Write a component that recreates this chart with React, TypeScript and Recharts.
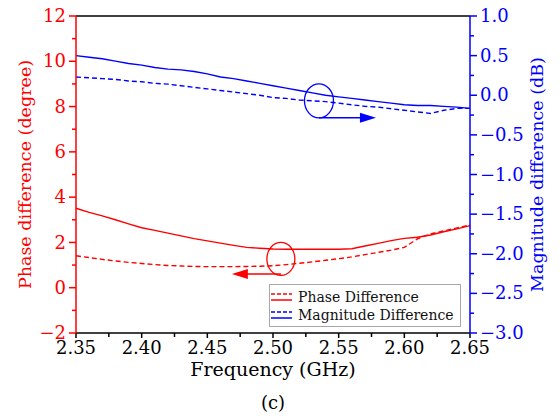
import React from 'react';
import { ComposedChart, Line, XAxis, YAxis, ReferenceLine, ReferenceDot, Legend } from 'recharts';

const RED = '#ff0000';
const BLUE = '#0000ff';
const FONT = "'DejaVu Serif', serif";

// frequency points (GHz)
const freq = [
  2.35, 2.36, 2.37, 2.38, 2.39, 2.4, 2.41, 2.42, 2.43, 2.44, 2.45, 2.46, 2.47, 2.48, 2.49, 2.5,
  2.51, 2.52, 2.53, 2.54, 2.55, 2.56, 2.57, 2.58, 2.59, 2.6, 2.61, 2.62, 2.63, 2.64, 2.65,
];

// phase difference (degree), left axis
const phaseSolid = [
  3.51, 3.33, 3.17, 3.0, 2.82, 2.65, 2.53, 2.41, 2.29, 2.17, 2.07, 1.97, 1.87, 1.78, 1.74, 1.71,
  1.7, 1.7, 1.7, 1.7, 1.7, 1.72, 1.84, 1.96, 2.08, 2.18, 2.23, 2.33, 2.47, 2.6, 2.74,
];
const phaseDashed = [
  1.41, 1.33, 1.25, 1.18, 1.12, 1.07, 1.02, 0.98, 0.96, 0.94, 0.93, 0.93, 0.93, 0.94, 0.95, 0.97,
  1.02, 1.08, 1.14, 1.21, 1.28, 1.36, 1.46, 1.56, 1.66, 1.78, 2.16, 2.38, 2.51, 2.64, 2.77,
];

// magnitude difference (dB), right axis
const magSolid = [
  0.5, 0.48, 0.46, 0.43, 0.4, 0.38, 0.35, 0.33, 0.32, 0.3, 0.27, 0.23, 0.21, 0.18, 0.15, 0.12,
  0.09, 0.06, 0.03, 0.0, -0.02, -0.04, -0.06, -0.08, -0.1, -0.12, -0.13, -0.13, -0.14, -0.15, -0.165,
];
const magDashed = [
  0.23, 0.22, 0.21, 0.2, 0.18, 0.17, 0.15, 0.14, 0.12, 0.1, 0.08, 0.06, 0.04, 0.02, 0.0, -0.03,
  -0.04, -0.06, -0.07, -0.08, -0.1, -0.12, -0.14, -0.15, -0.17, -0.19, -0.21, -0.23, -0.19, -0.165, -0.165,
];

const xTicks = [2.35, 2.375, 2.4, 2.425, 2.45, 2.475, 2.5, 2.525, 2.55, 2.575, 2.6, 2.625, 2.65];
const leftTicks = [-2, -1, 0, 1, 2, 3, 4, 5, 6, 7, 8, 9, 10, 11, 12];
const rightTicks = [-3, -2.75, -2.5, -2.25, -2, -1.75, -1.5, -1.25, -1, -0.75, -0.5, -0.25, 0, 0.25, 0.5, 0.75, 1];

const legendItems = [
  { name: 'Phase Difference', color: RED },
  { name: 'Magnitude Difference', color: BLUE },
];

const data = freq.map((f, i) => ({
  f,
  phaseSolid: phaseSolid[i],
  phaseDashed: phaseDashed[i],
  magSolid: magSolid[i],
  magDashed: magDashed[i],
}));

const minus = (s: string) => s.replace('-', '\u2212');
const isStep = (v: number, k: number) => Math.abs(v * k - Math.round(v * k)) < 1e-6;
const txt = (size: number) => ({ fontFamily: FONT, fontSize: size });

function LeftTick(props: any) {
  const { x, y, payload } = props;
  const v = payload.value;
  const major = isStep(v, 0.5);
  return (
    <g>
      <line x1={x} y1={y} x2={x - (major ? 7 : 4)} y2={y} stroke={RED} strokeWidth={1.5} />
      {major && (
        <text x={x - 10} y={y} dy="0.34em" textAnchor="end" fill={RED} style={txt(18)}>
          {minus(String(v))}
        </text>
      )}
    </g>
  );
}

function RightTick(props: any) {
  const { x, y, payload } = props;
  const v = payload.value;
  const major = isStep(v, 2);
  return (
    <g>
      <line x1={x} y1={y} x2={x + (major ? 7 : 4)} y2={y} stroke={BLUE} strokeWidth={1.5} />
      {major && (
        <text x={x + 10} y={y} dy="0.34em" textAnchor="start" fill={BLUE} style={txt(18)}>
          {minus(v.toFixed(1))}
        </text>
      )}
    </g>
  );
}

function BottomTick(props: any) {
  const { x, y, payload } = props;
  const v = payload.value;
  const major = isStep(v, 20);
  return (
    <g>
      <line x1={x} y1={y} x2={x} y2={y + (major ? 5 : 4)} stroke="#000" strokeWidth={1.5} />
      {major && (
        <text x={x} y={y + 21} textAnchor="middle" fill="#000" style={txt(18)}>
          {v.toFixed(2)}
        </text>
      )}
    </g>
  );
}

const leftTitle = (p: any) => {
  const vb = p.viewBox;
  const cx = vb.x + 31;
  const cy = vb.y + vb.height / 2;
  return (
    <text x={cx} y={cy} transform={`rotate(-90, ${cx}, ${cy})`} textAnchor="middle" fill={RED} style={txt(17.5)}>
      Phase difference (degree)
    </text>
  );
};

const rightTitle = (p: any) => {
  const vb = p.viewBox;
  const cx = vb.x + 73;
  const cy = vb.y + vb.height / 2;
  return (
    <text x={cx} y={cy} transform={`rotate(-90, ${cx}, ${cy})`} textAnchor="middle" fill={BLUE} style={txt(17.5)}>
      Magnitude difference (dB)
    </text>
  );
};

const bottomTitle = (p: any) => {
  const vb = p.viewBox;
  const cx = vb.x + vb.width / 2;
  return (
    <g>
      <text x={cx} y={vb.y + 43} textAnchor="middle" fill="#000" style={txt(19)}>
        Frequency (GHz)
      </text>
      <text x={cx} y={vb.y + 76} textAnchor="middle" fill="#000" style={txt(18)}>
        (c)
      </text>
    </g>
  );
};

// circle + arrow pointing to the axis the curves belong to
const RedMark = (p: any) => {
  const { cx, cy } = p;
  const ay = cy + 15;
  return (
    <g>
      <ellipse cx={cx} cy={cy} rx={14} ry={16.5} fill="none" stroke={RED} strokeWidth={1.3} />
      <line x1={cx} y1={ay} x2={cx - 34} y2={ay} stroke={RED} strokeWidth={1.5} />
      <polygon points={`${cx - 49},${ay} ${cx - 33},${ay - 5} ${cx - 33},${ay + 5}`} fill={RED} />
    </g>
  );
};

const BlueMark = (p: any) => {
  const { cx, cy } = p;
  const ay = cy + 17;
  return (
    <g>
      <ellipse cx={cx} cy={cy} rx={14.5} ry={17} fill="none" stroke={BLUE} strokeWidth={1.3} />
      <line x1={cx} y1={ay} x2={cx + 42} y2={ay} stroke={BLUE} strokeWidth={1.5} />
      <polygon points={`${cx + 57},${ay} ${cx + 41},${ay - 5} ${cx + 41},${ay + 5}`} fill={BLUE} />
    </g>
  );
};

function LegendBox() {
  return (
    <svg width={192} height={43} style={{ display: 'block' }}>
      <rect x={0.5} y={0.5} width={191} height={42} fill="#fff" stroke="#a8a8a8" />
      {legendItems.map((it, i) => {
        const y0 = 10 + i * 18;
        return (
          <g key={it.name}>
            <line x1={2} x2={23} y1={y0} y2={y0} stroke={it.color} strokeWidth={1.5} strokeDasharray="4 2" />
            <line x1={2} x2={23} y1={y0 + 6} y2={y0 + 6} stroke={it.color} strokeWidth={1.5} />
            <text x={29} y={y0 + 8} fill="#111" style={txt(14)}>
              {it.name}
            </text>
          </g>
        );
      })}
    </svg>
  );
}

export default function App() {
  return (
    <div style={{ width: 560, height: 416, background: '#fff', fontFamily: FONT }}>
      <style>{'body{margin:0}'}</style>
      <ComposedChart width={560} height={416} data={data} margin={{ top: 16, right: 0, bottom: 0, left: 0 }}>
        <XAxis
          dataKey="f"
          type="number"
          domain={[2.35, 2.65]}
          ticks={xTicks}
          interval={0}
          tickSize={0}
          tickMargin={0}
          tickLine={false}
          tick={<BottomTick />}
          axisLine={{ stroke: '#000', strokeWidth: 1.5 }}
          height={83}
          label={bottomTitle}
        />
        <YAxis
          yAxisId="left"
          domain={[-2, 12]}
          ticks={leftTicks}
          interval={0}
          tickSize={0}
          tickMargin={0}
          tickLine={false}
          tick={<LeftTick />}
          axisLine={{ stroke: RED, strokeWidth: 1.5 }}
          width={76}
          label={leftTitle}
        />
        <YAxis
          yAxisId="right"
          orientation="right"
          domain={[-3, 1]}
          ticks={rightTicks}
          interval={0}
          tickSize={0}
          tickMargin={0}
          tickLine={false}
          tick={<RightTick />}
          axisLine={{ stroke: BLUE, strokeWidth: 1.5 }}
          width={90}
          label={rightTitle}
        />
        <ReferenceLine yAxisId="left" y={12} stroke="#000" strokeWidth={1.5} />
        <Line yAxisId="left" dataKey="phaseSolid" name="Phase Difference" stroke={RED} strokeWidth={1.4} dot={false} isAnimationActive={false} />
        <Line yAxisId="left" dataKey="phaseDashed" name="Phase Difference" stroke={RED} strokeWidth={1.4} strokeDasharray="5 3" dot={false} isAnimationActive={false} />
        <Line yAxisId="right" dataKey="magSolid" name="Magnitude Difference" stroke={BLUE} strokeWidth={1.4} dot={false} isAnimationActive={false} />
        <Line yAxisId="right" dataKey="magDashed" name="Magnitude Difference" stroke={BLUE} strokeWidth={1.4} strokeDasharray="5 3" dot={false} isAnimationActive={false} />
        <ReferenceDot yAxisId="left" x={2.506} y={1.27} shape={RedMark} />
        <ReferenceDot yAxisId="right" x={2.535} y={-0.07} shape={BlueMark} />
        <Legend
          layout="vertical"
          verticalAlign="middle"
          align="center"
          wrapperStyle={{ left: 269, top: 284, width: 192, height: 43 }}
          content={() => <LegendBox />}
        />
      </ComposedChart>
    </div>
  );
}
